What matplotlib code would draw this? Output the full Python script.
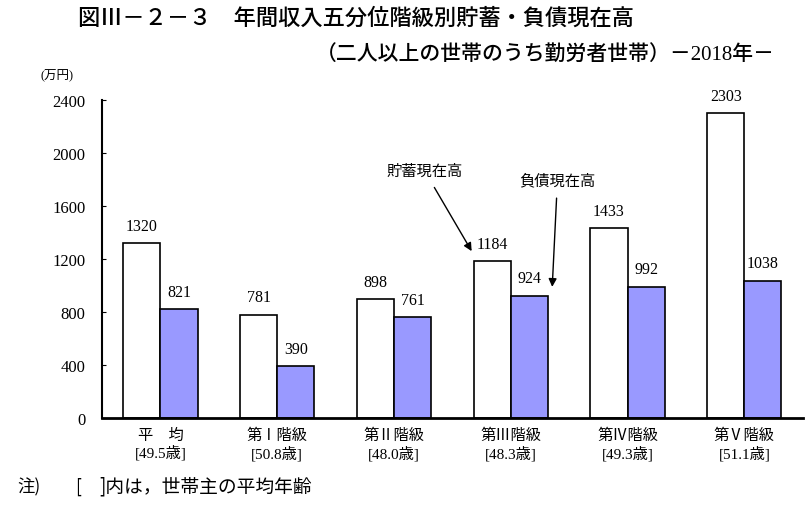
import matplotlib
matplotlib.use("Agg")
import matplotlib.pyplot as plt
import numpy as np

plt.rcParams['font.family'] = ['Liberation Serif', 'Noto Sans CJK JP', 'DejaVu Sans']

categories = ["平　均", "第Ⅰ階級", "第Ⅱ階級", "第Ⅲ階級", "第Ⅳ階級", "第Ⅴ階級"]
ages = ["[49.5歳]", "[50.8歳]", "[48.0歳]", "[48.3歳]", "[49.3歳]", "[51.1歳]"]
savings = [1320, 781, 898, 1184, 1433, 2303]
debts = [821, 390, 761, 924, 992, 1038]
yticks = [0, 400, 800, 1200, 1600, 2000, 2400]

fig = plt.figure(figsize=(8.1, 5.06), dpi=100)
ax = fig.add_axes([0.126, 0.172, 0.865, 0.628])

x = np.arange(len(categories))
w = 0.318
b1 = ax.bar(x - w / 2, savings, w, color="white", edgecolor="black", linewidth=1.2)
b2 = ax.bar(x + w / 2, debts, w, color="#9999ff", edgecolor="black", linewidth=1.2)

for bars, vals in ((b1, savings), (b2, debts)):
    for r, v in zip(bars, vals):
        ax.text(r.get_x() + r.get_width() / 2, v + 70, str(v),
                ha="center", va="bottom", fontsize=11.5)

ax.set_xlim(-0.5, len(categories) - 0.5)
ax.set_ylim(0, 2400)
ax.set_yticks(yticks)
ax.set_yticklabels([str(t) for t in yticks], fontsize=12)
ax.set_xticks(x)
ax.set_xticklabels([c + "\n" + a for c, a in zip(categories, ages)], fontsize=11, linespacing=1.2)
ax.tick_params(axis="y", direction="in", length=3, pad=12)
ax.tick_params(axis="x", length=0, pad=7)
ax.spines["top"].set_visible(False)
ax.spines["right"].set_visible(False)
ax.spines["left"].set_linewidth(1.5)
ax.spines["bottom"].set_linewidth(2)

ax.annotate("貯蓄現在高", xy=(2.665, 1260), xytext=(2.26, 1870),
            ha="center", va="center", fontsize=11,
            arrowprops=dict(arrowstyle="-|>", color="black", lw=1, mutation_scale=12, shrinkA=6, shrinkB=0))
ax.annotate("負債現在高", xy=(3.355, 990), xytext=(3.40, 1800),
            ha="center", va="center", fontsize=11,
            arrowprops=dict(arrowstyle="-|>", color="black", lw=1, mutation_scale=12, shrinkA=6, shrinkB=0))

fig.text(0.44, 0.962, "図Ⅲ－２－３　年間収入五分位階級別貯蓄・負債現在高", ha="center", va="center",
         fontsize=16, weight="medium")
fig.text(0.957, 0.89, "（二人以上の世帯のうち勤労者世帯）－2018年－", ha="right", va="center",
         fontsize=15, weight="medium")
fig.text(0.05, 0.85, "(万円)", ha="left", va="center", fontsize=9)

note_font = ["Noto Sans CJK JP", "DejaVu Sans"]
fig.text(0.022, 0.037, "注)", ha="left", va="center", fontsize=12.5, family=note_font)
fig.text(0.093, 0.037, "[", ha="left", va="center", fontsize=12.5, family=note_font)
fig.text(0.122, 0.037, "]内は，世帯主の平均年齢", ha="left", va="center", fontsize=13.5, family=note_font)

fig.savefig("out.png", dpi=100)
